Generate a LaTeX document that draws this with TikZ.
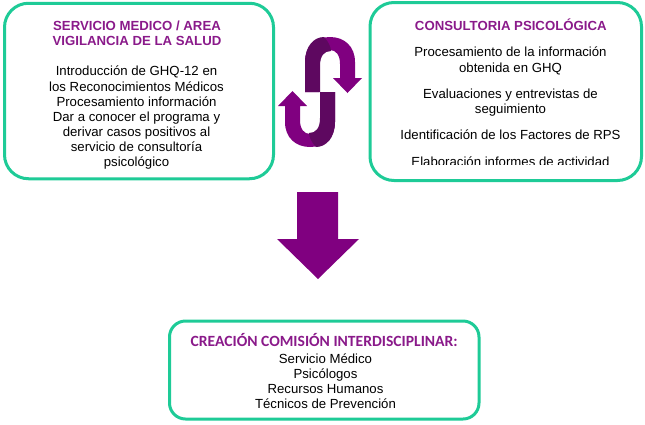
\documentclass[tikz,border=0pt]{standalone}
\usepackage{fontspec}
\setmainfont{Liberation Sans}
\newfontfamily\carlito{Carlito}
\definecolor{borde}{HTML}{1ECB97}
\definecolor{morado}{HTML}{800080}
\definecolor{moradoosc}{HTML}{5E0860}
\definecolor{titulomorado}{HTML}{8A1A8A}

\begin{document}
\begin{tikzpicture}[x=1pt,y=-1pt,
        caja/.style={draw=borde, line width=3pt, rounded corners=24pt, inner sep=0pt},
        titulo/.style={font=\fontsize{13.2}{15}\selectfont\bfseries, text=titulomorado, align=center, inner sep=0pt},
        texto/.style={font=\fontsize{13.2}{15.1}\selectfont, align=center, inner sep=0pt}]

        \useasboundingbox (0,0) rectangle (645,424);

        %SERVICIO MEDICO
        \begin{scope}[local bounding box=SERVICIOBOX]
            \node[caja, minimum width=269pt, minimum height=175.5pt] (SERVICIO) at (139,91) {};
            \node[titulo, anchor=base] (SERVICIOtitulo) at (137,45.7) {SERVICIO MEDICO / AREA\\VIGILANCIA DE LA SALUD};
            \node[texto, anchor=base] (SERVICIOtexto) at (136.5,166.5) {Introducción de GHQ-12 en\\los Reconocimientos Médicos\\Procesamiento información\\Dar a conocer el programa y\\derivar casos positivos al\\servicio de consultoría\\psicológico};
        \end{scope}

        %CONSULTORIA
        \begin{scope}[local bounding box=CONSULTORIABOX]
            \node[caja, minimum width=271.5pt, minimum height=178pt] (CONSULTORIA) at (505.75,91.5) {};
            \node[titulo, anchor=base] (CONSULTORIAtitulo) at (510.8,30) {CONSULTORIA PSICOLÓGICA};
            \begin{scope}
                \clip (372,40) rectangle (640,164.3);
                \node[texto, anchor=base] (CONSULTORIAtexto) at (510.5,166) {Procesamiento de la información\\obtenida en GHQ\\[11.2pt]Evaluaciones y entrevistas de\\seguimiento\\[11.2pt]Identificación de los Factores de RPS\\[11.2pt]Elaboración informes de actividad};
            \end{scope}
        \end{scope}

        %Ciclo
        \begin{scope}[local bounding box=CICLO]
            \foreach \giro in {0,180} {
                \begin{scope}[rotate around={\giro:(320,92)}]
                    \fill[morado] (305,92) -- (305,62) .. controls (305,46) and (316,37) .. (330,37) .. controls (344,37) and (355,46) .. (355,62) -- (355,78) -- (362,78) -- (347.5,93) -- (333,78) -- (340,78) -- (340,64) .. controls (340,55) and (336,50) .. (330,50) .. controls (324,50) and (319,55) .. (319,64) -- (319,92) -- cycle;
                    \fill[moradoosc] (305,92) -- (305,62) .. controls (305,46) and (314,37) .. (324,37) .. controls (329,42) and (331,48) .. (331,51) .. controls (324,51) and (320,56) .. (320,66) -- (320,92) -- cycle;
                \end{scope}
            }
        \end{scope}

        %Flecha
        \fill[morado] (297,192) -- (338,192) -- (338,239) -- (359,239) -- (318,279) -- (277,239) -- (297,239) -- cycle;

        %COMISION
        \begin{scope}[local bounding box=COMISIONBOX]
            \node[caja, rounded corners=16pt, minimum width=309.5pt, minimum height=98pt] (COMISION) at (324.25,370) {};
            \node[titulo, font=\carlito\fontsize{15.6}{18}\selectfont\bfseries, anchor=base] (COMISIONtitulo) at (324.2,346.7) {CREACIÓN COMISIÓN INTERDISCIPLINAR:};
            \node[texto, anchor=base] (COMISIONtexto) at (325.5,408.7) {Servicio Médico\\Psicólogos\\Recursos Humanos\\Técnicos de Prevención};
        \end{scope}
    \end{tikzpicture}
\end{document}
